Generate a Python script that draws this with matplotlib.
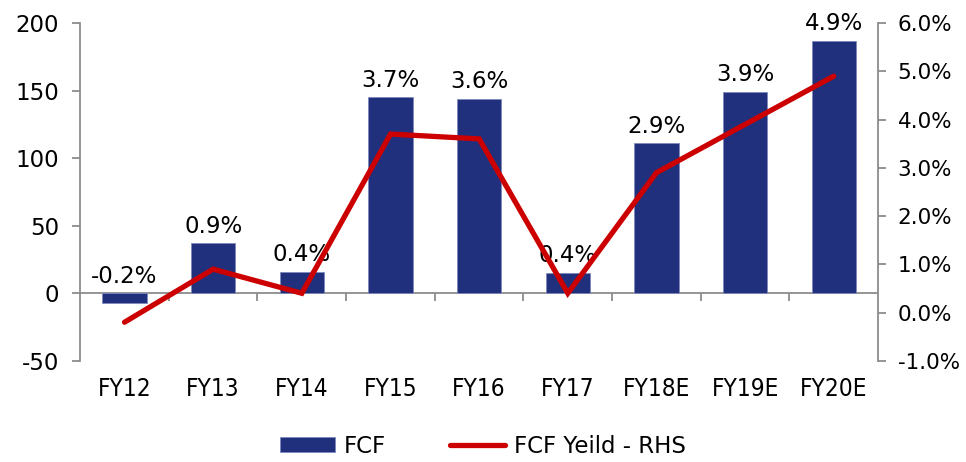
import matplotlib.pyplot as plt
from matplotlib.ticker import FuncFormatter

years = ["FY12", "FY13", "FY14", "FY15", "FY16", "FY17", "FY18E", "FY19E", "FY20E"]
fcf = [-7, 37, 16, 145, 144, 15, 111, 149, 187]
fcf_yield = [-0.2, 0.9, 0.4, 3.7, 3.6, 0.4, 2.9, 3.9, 4.9]

bar_col = "#20307c"
line_col = "#cc0000"
grey = "#8c8c8c"

plt.rcParams["font.family"] = ["DejaVu Sans"]
plt.rcParams["axes.unicode_minus"] = False

fig = plt.figure(figsize=(9.66, 4.62), dpi=100)
ax = fig.add_axes([0.083, 0.219, 0.826, 0.731])

x = list(range(len(years)))
bars = ax.bar(x, fcf, width=0.5, color=bar_col, edgecolor="#7f89bb", linewidth=0.6,
              label="FCF", zorder=2)
ax.set_xlim(-0.5, len(years) - 0.5)
ax.set_ylim(-50, 200)
ax.set_yticks([-50, 0, 50, 100, 150, 200])
ax.axhline(0, color=grey, lw=1.3, zorder=1)

for s in ["top", "bottom", "right"]:
    ax.spines[s].set_visible(False)
ax.spines["left"].set_color(grey)
ax.spines["left"].set_linewidth(1.3)
ax.tick_params(axis="y", colors=grey, labelcolor="black", labelsize=16.5, length=6,
               width=1.3, pad=9)
ax.set_xticks(x)
ax.set_xticklabels(years, fontsize=17.5, fontstretch="condensed")
ax.tick_params(axis="x", length=0, pad=12)

# category boundary ticks on the zero line
sec = ax.secondary_xaxis(0.2)
sec.set_xticks([i + 0.5 for i in x[:-1]])
sec.set_xticklabels([])
sec.spines["bottom"].set_visible(False)
sec.tick_params(axis="x", colors=grey, length=6, width=1.3)

# yield labels above bars
for b, yv in zip(bars, fcf_yield):
    top = max(b.get_height(), 0)
    ax.annotate(f"{yv:.1f}%", (b.get_x() + b.get_width() / 2, top), xytext=(0, 4),
                textcoords="offset points", ha="center", va="bottom", fontsize=16.5, zorder=4)

ax2 = ax.twinx()
ax2.plot(x, fcf_yield, color=line_col, lw=3.8, solid_capstyle="round",
         solid_joinstyle="miter", label="FCF Yeild - RHS", zorder=3)
ax2.set_ylim(-1, 6)
ax2.set_yticks([-1, 0, 1, 2, 3, 4, 5, 6])
ax2.yaxis.set_major_formatter(FuncFormatter(lambda v, p: f"{v:.1f}%"))
for s in ["top", "bottom", "left"]:
    ax2.spines[s].set_visible(False)
ax2.spines["right"].set_color(grey)
ax2.spines["right"].set_linewidth(1.3)
ax2.tick_params(axis="y", colors=grey, labelcolor="black", labelsize=15.5, length=6,
                width=1.3, pad=8)

h1, l1 = ax.get_legend_handles_labels()
h2, l2 = ax2.get_legend_handles_labels()
fig.legend(h1 + h2, l1 + l2, loc="lower center", bbox_to_anchor=(0.5, -0.035), ncol=2,
           frameon=False, fontsize=16.5, handlelength=2.4, handleheight=0.6,
           handletextpad=0.4, columnspacing=2.8)

fig.savefig("out.png", dpi=100)
